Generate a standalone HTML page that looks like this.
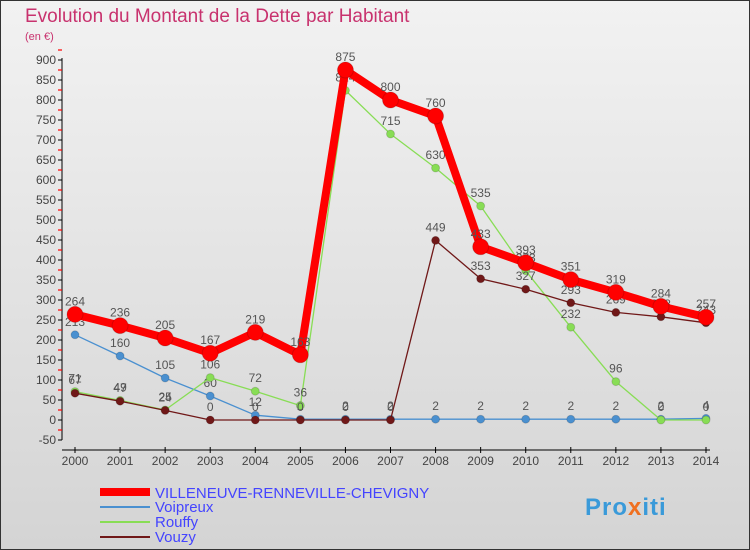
<!DOCTYPE html>
<html><head><meta charset="utf-8"><style>
body{margin:0;}
#c{width:750px;height:550px;position:relative;overflow:hidden;background:linear-gradient(#f2f2f2,#d4d4d4);font-family:"Liberation Sans",sans-serif;}
</style></head><body>
<div id="c">
<svg id="s" width="750" height="550" xmlns="http://www.w3.org/2000/svg">
<rect x="0.5" y="0.5" width="749" height="549" fill="none" stroke="#333"/>
<text x="25" y="22" font-size="19" fill="#c8326e">Evolution du Montant de la Dette par Habitant</text>
<text x="25" y="40" font-size="11" fill="#c8326e">(en €)</text>
<g id="axes"></g><g id="series"></g>
<g>
<line x1="100" y1="492" x2="150" y2="492" stroke="#f00" stroke-width="8"/>
<text x="155" y="498" font-size="15" fill="#44f">VILLENEUVE-RENNEVILLE-CHEVIGNY</text>
<line x1="100" y1="507" x2="150" y2="507" stroke="#4a90d0" stroke-width="2"/>
<text x="155" y="512" font-size="15" fill="#44f">Voipreux</text>
<line x1="100" y1="522" x2="150" y2="522" stroke="#88dd55" stroke-width="2"/>
<text x="155" y="527" font-size="15" fill="#44f">Rouffy</text>
<line x1="100" y1="537" x2="150" y2="537" stroke="#701818" stroke-width="2"/>
<text x="155" y="542" font-size="15" fill="#44f">Vouzy</text>
</g>
<text x="585" y="515" font-size="24" font-weight="bold" fill="#3a9ad9" letter-spacing="1">Pro<tspan fill="#f07020">x</tspan>iti</text>
</svg></div>
<script>
const years=[2000,2001,2002,2003,2004,2005,2006,2007,2008,2009,2010,2011,2012,2013,2014];
const yTicks=[-50,0,50,100,150,200,250,300,350,400,450,500,550,600,650,700,750,800,850,900];
const villeneuve=[264,236,205,167,219,163,875,800,760,433,393,351,319,284,257];
const voipreux=[213,160,105,60,12,2,2,2,2,2,2,2,2,2,4];
const rouffy=[71,49,25,106,72,36,824,715,630,535,373,232,96,0,0];
const vouzy=[67,47,24,0,0,0,0,0,449,353,327,293,269,258,243];
const NS="http://www.w3.org/2000/svg";
const X=i=>75+i*(706-75)/14, Y=v=>420-v*0.4;
function mk(t,a,p){const e=document.createElementNS(NS,t);for(const k in a)e.setAttribute(k,a[k]);p.appendChild(e);return e;}
const ax=document.getElementById('axes'),sg=document.getElementById('series');
let l=mk('line',{x1:62,y1:Y(900)-2,x2:62,y2:Y(-50),stroke:'#000'},ax);

yTicks.forEach(v=>{
 let t=mk('line',{x1:58,y1:Y(v),x2:62,y2:Y(v),stroke:'#000'},ax);
 
 let r=mk('line',{x1:58,y1:Y(v+25),x2:62,y2:Y(v+25),stroke:'#ff0000','stroke-width':1.2},ax);
 
 let tx=mk('text',{x:56,y:Y(v)+4,'text-anchor':'end','font-size':12,fill:'#444'},ax);tx.textContent=v;
 
});
l=mk('line',{x1:62,y1:450,x2:710,y2:450,stroke:'#000'},ax);

years.forEach((y,i)=>{
 let t=mk('line',{x1:X(i),y1:447,x2:X(i),y2:453,stroke:'#000'},ax);
 
 let tx=mk('text',{x:X(i),y:465,'text-anchor':'middle','font-size':12,fill:'#444'},ax);tx.textContent=y;
 
});
function series(d,col,w,r,name){
 const g=mk('g',{},sg);
 let p=mk('polyline',{points:d.map((v,i)=>X(i)+','+Y(v)).join(' '),fill:'none',stroke:col,'stroke-width':w,'stroke-linejoin':'round'},g);
 
 d.forEach((v,i)=>{
  let c=mk('circle',{cx:X(i),cy:Y(v),r:r,fill:col,stroke:'rgba(0,0,0,0.15)'},g);
  
  let t=mk('text',{x:X(i),y:Y(v)-9,'text-anchor':'middle','font-size':12,fill:'#555'},g);t.textContent=v;
  
 });
}
series(voipreux,'#4a90d0',1.3,4,'voipreux');
series(rouffy,'#88dd55',1.3,4,'rouffy');
series(vouzy,'#701818',1.3,4,'vouzy');
series(villeneuve,'#f00',8,8,'villeneuve');
</script></body></html>
